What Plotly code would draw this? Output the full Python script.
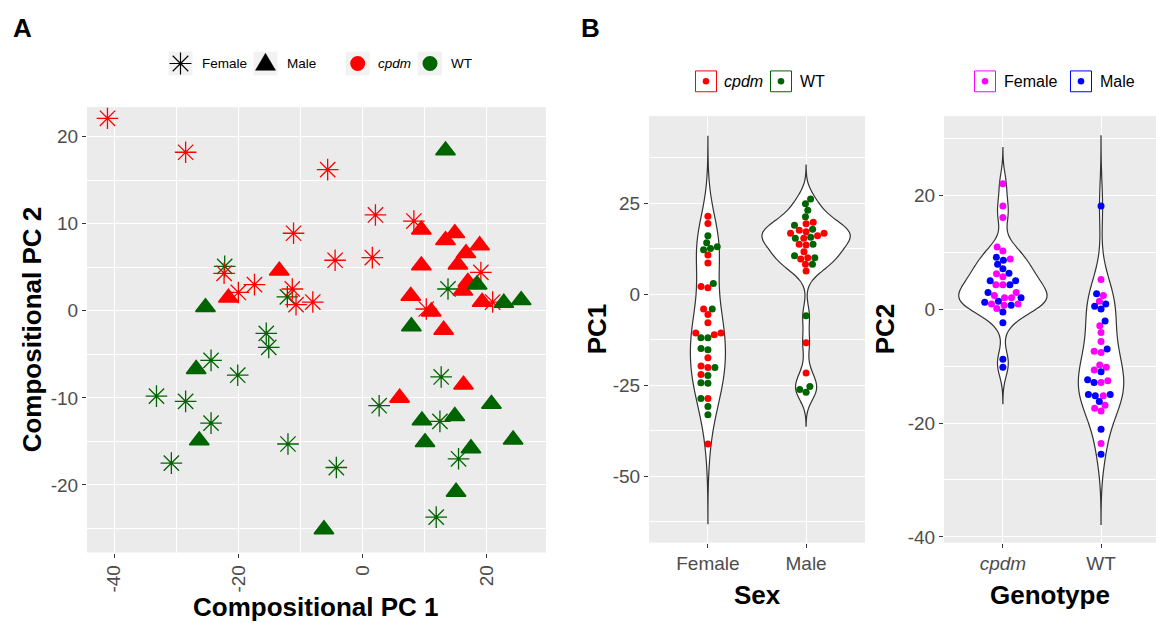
import math
import numpy as np
import plotly.graph_objects as go

W, H = 1156, 623
FONT = "Liberation Sans, Arial, Helvetica, sans-serif"
RED, GREEN, MAGENTA, BLUE = "#FF0000", "#006400", "#FF00FF", "#0000FF"
BG = "#EBEBEB"
TICKC = "#4D4D4D"

# ---------------- Panel A data (compositional PCs) ----------------
fem_cpdm_pc1 = [-41.1, -28.5, -5.6, -11.1, 2.1, 8.3, -4.4, 1.6, -22.3, -17.4, -20.0, -11.3, -10.7, -8.0, 19.1, 21.0, 10.3]
fem_cpdm_pc2 = [22.1, 18.2, 16.2, 8.9, 11.0, 10.3, 5.8, 6.1, 4.3, 3.0, 2.1, 2.5, 0.7, 1.0, 4.4, 1.0, 0.2]
fem_wt_pc1 = [-22.2, -12.1, 13.8, -15.5, -15.1, -24.4, -20.1, -33.2, -28.5, -24.4, -12.0, -30.8, -4.2, 12.7, 2.7, 12.5, 15.5, 11.9]
fem_wt_pc2 = [5.1, 1.6, 2.5, -2.6, -4.2, -5.7, -7.4, -9.8, -10.4, -12.9, -15.3, -17.5, -18.0, -7.6, -10.9, -12.7, -17.0, -23.7]
male_cpdm_pc1 = [-13.4, -21.6, 9.5, 14.9, 13.4, 18.9, 16.7, 15.4, 9.5, 17.0, 16.2, 7.8, 19.3, 11.1, 13.1, 16.3, 6.0]
male_cpdm_pc2 = [4.6, 1.5, 9.3, 8.9, 8.1, 7.5, 6.6, 5.3, 5.2, 3.3, 2.3, 1.7, 1.0, -0.1, -2.2, -8.5, -10.0]
male_wt_pc1 = [13.4, 18.5, 22.8, 25.6, -25.3, 7.9, -26.8, -26.3, -6.2, 20.8, 9.6, 14.9, 10.1, 24.3, 17.5, 15.1]
male_wt_pc2 = [18.4, 3.0, 0.9, 1.2, 0.4, -1.8, -6.7, -14.9, -25.1, -10.7, -12.6, -12.1, -15.1, -14.8, -15.8, -20.8]
a_x_ticks = [-40, -20, 0, 20]
a_y_ticks = [-20, -10, 0, 10, 20]

# ---------------- Panel B data ----------------
sex_categories = ["Female", "Male"]
genotype_categories = ["cpdm", "WT"]
pc1_female_cpdm = [21.4, 19.4, 10.7, 8.5, 1.7, 2.1, -4.1, -5.6, -7.9, -10.7, -11.2, -10.7, -17.5, -20.2, -19.8, -22.1, -28.7, -41.2]
pc1_female_wt = [16.0, 14.1, 13.0, 12.5, 12.2, 2.9, -4.1, -12.0, -12.0, -15.3, -15.0, -20.2, -22.4, -24.4, -24.5, -28.7, -30.9, -33.2]
pc1_male_cpdm = [19.7, 19.3, 17.5, 16.7, 16.0, 16.7, 17.1, 15.3, 13.5, 13.7, 11.6, 10.0, 9.6, 8.2, 6.3, -13.4, -21.7]
pc1_male_wt = [26.1, 24.8, 23.0, 21.2, 18.9, 17.8, 15.3, 15.6, 13.7, 10.0, 10.5, 8.2, -6.0, -25.4, -27.0, -26.2]
pc2_cpdm_female = [22.0, 18.1, 16.1, 10.9, 10.2, 8.8, 6.2, 5.7, 4.3, 4.3, 2.9, 2.4, 2.0, 2.0, 0.9, 0.9, 0.7, 0.1]
pc2_cpdm_male = [9.1, 8.6, 7.9, 7.1, 6.3, 5.0, 4.3, 5.0, 2.9, 2.0, 1.2, 1.4, 0.7, -0.5, -2.4, -8.8, -10.2]
pc2_wt_female = [5.2, 2.4, 1.4, -2.9, -4.1, -5.7, -7.6, -7.4, -10.2, -9.8, -10.7, -12.6, -12.9, -15.2, -16.9, -17.4, -17.9, -23.6]
pc2_wt_male = [18.1, 2.7, 0.9, 0.5, 0.0, -2.1, -7.0, -11.0, -12.9, -12.4, -15.2, -15.0, -15.0, -16.2, -21.1, -25.5]
pc1_ticks = [-50, -25, 0, 25]
pc2_ticks = [-40, -20, 0, 20]

# ---------------- layout geometry (pixels) ----------------
A_X, A_Y = (87, 546), (108, 557)
B1_X, B2_X, B_Y = (649, 865), (944, 1156), (117, 547)
A_XR, A_YR = [-44.4, 29.6], [-27.76, 23.38]
B1_XR, B1_YR = [-0.6, 1.6], [-68.3, 48.9]
B2_XR, B2_YR = [-0.6, 1.56], [-41.0, 33.9]


def xdom(p):
    return [p[0] / W, p[1] / W]


def ydom(p):
    return [1 - p[1] / H, 1 - p[0] / H]


def nrd0(v):
    v = np.asarray(v, float)
    sd = v.std(ddof=1)
    q75, q25 = np.percentile(v, [75, 25])
    lo = min(sd, (q75 - q25) / 1.34)
    if lo <= 0:
        lo = sd
    return 0.9 * lo * len(v) ** -0.2


def swarm(vals, ypx, d):
    vals = np.asarray(vals, float)
    order = np.argsort(vals, kind="stable")
    placed = []
    offs = np.zeros(len(vals))
    for i in order:
        y = vals[i] * ypx
        near = [(px, py) for px, py in placed if abs(py - y) < d]
        cands = [0.0]
        for px, py in near:
            dx = math.sqrt(max(d * d - (py - y) ** 2, 0.0))
            cands += [px + dx, px - dx]
        cands.sort(key=lambda c: (abs(c), c))
        for c in cands:
            if all((c - px) ** 2 + (y - py) ** 2 >= d * d - 1e-6 for px, py in near):
                offs[i] = c
                placed.append((c, y))
                break
    return offs


fig = go.Figure()

# ---------------- Panel A traces ----------------
star = dict(symbol="asterisk-open", size=18)
tri = dict(symbol="triangle-up", size=17)
fig.add_trace(go.Scatter(x=fem_wt_pc1, y=fem_wt_pc2, mode="markers", xaxis="x", yaxis="y",
                         marker=dict(**star, color=GREEN, line=dict(color=GREEN, width=1.3)), showlegend=False))
fig.add_trace(go.Scatter(x=fem_cpdm_pc1, y=fem_cpdm_pc2, mode="markers", xaxis="x", yaxis="y",
                         marker=dict(**star, color=RED, line=dict(color=RED, width=1.3)), showlegend=False))
fig.add_trace(go.Scatter(x=male_cpdm_pc1, y=male_cpdm_pc2, mode="markers", xaxis="x", yaxis="y",
                         marker=dict(**tri, color=RED, line=dict(color=RED, width=1.6)), showlegend=False))
fig.add_trace(go.Scatter(x=male_wt_pc1, y=male_wt_pc2, mode="markers", xaxis="x", yaxis="y",
                         marker=dict(**tri, color=GREEN, line=dict(color=GREEN, width=1.6)), showlegend=False))

# ---------------- Panel B traces ----------------
DOT = 7.0


def add_violin_group(pos, groups, ax, ay, xr, yr, xpix, ypix, sg):
    vals = []
    cols = []
    for v, c in groups:
        vals += list(v)
        cols += [c] * len(v)
    bw = nrd0(vals)
    fig.add_trace(go.Violin(y=vals, x0=pos, bandwidth=bw, spanmode="manual",
                            span=[min(vals) - 3 * bw, max(vals) + 3 * bw], fillcolor="white",
                            line=dict(color="#333333", width=1.2), points=False, scalegroup=sg,
                            scalemode="width", orientation="v", xaxis=ax, yaxis=ay,
                            showlegend=False, hoverinfo="skip"))
    ypx = (ypix[1] - ypix[0]) / (yr[1] - yr[0])
    xpx = (xpix[1] - xpix[0]) / (xr[1] - xr[0])
    offs = swarm(vals, ypx, DOT)
    xs = [pos + o / xpx for o in offs]
    fig.add_trace(go.Scatter(x=xs, y=vals, mode="markers", xaxis=ax, yaxis=ay,
                             marker=dict(size=DOT, color=cols, line=dict(width=0)),
                             showlegend=False))


add_violin_group(0, [(pc1_female_cpdm, RED), (pc1_female_wt, GREEN)], "x2", "y2", B1_XR, B1_YR, B1_X, B_Y, "b1")
add_violin_group(1, [(pc1_male_cpdm, RED), (pc1_male_wt, GREEN)], "x2", "y2", B1_XR, B1_YR, B1_X, B_Y, "b1")
add_violin_group(0, [(pc2_cpdm_female, MAGENTA), (pc2_cpdm_male, BLUE)], "x3", "y3", B2_XR, B2_YR, B2_X, B_Y, "b2")
add_violin_group(1, [(pc2_wt_female, MAGENTA), (pc2_wt_male, BLUE)], "x3", "y3", B2_XR, B2_YR, B2_X, B_Y, "b2")

# ---------------- axes ----------------
tickfont = dict(family=FONT, size=19, color=TICKC)
common = dict(showgrid=True, gridcolor="white", gridwidth=1.4, zeroline=False, showline=False,
              ticks="outside", ticklen=4, tickwidth=1, tickcolor="#333333", tickfont=tickfont)


def minor(rng, step, majors):
    vals = [float(v) for v in np.arange(math.floor(rng[0] / step) * step, rng[1] + step, step)
            if all(abs(v - m) > 1e-9 for m in majors)]
    return dict(tickmode="array", tickvals=vals, showgrid=True, gridcolor="white", gridwidth=0.7, ticks="")


def major(vals):
    return dict(tickmode="array", tickvals=vals, ticktext=[str(v) for v in vals])


layout_axes = dict(
    xaxis=dict(domain=xdom(A_X), range=A_XR, anchor="y", tickangle=-90, **major(a_x_ticks),
               minor=minor(A_XR, 10, a_x_ticks), **common),
    yaxis=dict(domain=ydom(A_Y), range=A_YR, anchor="x", **major(a_y_ticks),
               minor=minor(A_YR, 5, a_y_ticks), **common),
    xaxis2=dict(domain=xdom(B1_X), range=B1_XR, anchor="y2", tickvals=[0, 1], ticktext=sex_categories,
                **common),
    yaxis2=dict(domain=ydom(B_Y), range=B1_YR, anchor="x2", **major(pc1_ticks),
                minor=minor(B1_YR, 12.5, pc1_ticks), **common),
    xaxis3=dict(domain=xdom(B2_X), range=B2_XR, anchor="y3", tickvals=[0, 1],
                ticktext=["<i>" + genotype_categories[0] + "</i>", genotype_categories[1]], **common),
    yaxis3=dict(domain=ydom(B_Y), range=B2_YR, anchor="x3", **major(pc2_ticks),
                minor=minor(B2_YR, 10, pc2_ticks), **common),
)

# ---------------- text annotations ----------------
ann = []


def text(px, py, s, size, angle=0, xanchor="center", color="black"):
    ann.append(dict(x=px / W, y=1 - py / H, xref="paper", yref="paper", text=s, showarrow=False,
                    xanchor=xanchor, yanchor="middle", textangle=angle,
                    font=dict(family=FONT, size=size, color=color)))


text(22, 28, "<b>A</b>", 26)
text(590, 28, "<b>B</b>", 26)
text(316, 612, "<b>Compositional PC 1</b>", 26)
text(32, 332, "<b>Compositional PC 2</b>", 26, angle=-90)
text(757, 600, "<b>Sex</b>", 26)
text(1050, 600, "<b>Genotype</b>", 26)
text(597, 332, "<b>PC1</b>", 26, angle=-90)
text(885, 332, "<b>PC2</b>", 26, angle=-90)

# ---------------- legends (drawn keys) ----------------
shapes = []


def rect(cx, cy, s, fill, line_color=None):
    shapes.append(dict(type="rect", xref="paper", yref="paper",
                       x0=(cx - s / 2) / W, x1=(cx + s / 2) / W,
                       y0=1 - (cy + s / 2) / H, y1=1 - (cy - s / 2) / H,
                       fillcolor=fill, line=dict(width=1 if line_color else 0, color=line_color or fill)))


def circle(cx, cy, r, fill):
    shapes.append(dict(type="circle", xref="paper", yref="paper",
                       x0=(cx - r) / W, x1=(cx + r) / W, y0=1 - (cy + r) / H, y1=1 - (cy - r) / H,
                       fillcolor=fill, line=dict(width=0)))


def P(px, py):
    return "%.5f,%.5f" % (px / W, 1 - py / H)


def asterisk(cx, cy, r, color):
    d = r * 0.707
    path = ("M" + P(cx - r, cy) + "L" + P(cx + r, cy) + "M" + P(cx, cy - r) + "L" + P(cx, cy + r) +
            "M" + P(cx - d, cy - d) + "L" + P(cx + d, cy + d) + "M" + P(cx - d, cy + d) + "L" + P(cx + d, cy - d))
    shapes.append(dict(type="path", xref="paper", yref="paper", path=path, line=dict(color=color, width=1.2)))


def triangle(cx, cy, w, h, color):
    path = "M" + P(cx - w / 2, cy + h * 0.4) + "L" + P(cx + w / 2, cy + h * 0.4) + "L" + P(cx, cy - h * 0.6) + "Z"
    shapes.append(dict(type="path", xref="paper", yref="paper", path=path, fillcolor=color,
                       line=dict(color=color, width=0.5)))


# Panel A legend
LA_Y, KA = 64, 24
rect(180.5, LA_Y, KA, "#F2F2F2"); asterisk(180.5, LA_Y, 11, "black"); text(200, LA_Y, "Female", 13.5, xanchor="left")
rect(265.5, LA_Y, KA, "#F2F2F2"); triangle(265.5, LA_Y, 20, 17, "black"); text(285, LA_Y, "Male", 13.5, xanchor="left")
rect(357.7, LA_Y, KA, "#F2F2F2"); circle(357.7, LA_Y, 7.5, RED); text(376, LA_Y, "<i>cpdm</i>", 13.5, xanchor="left")
rect(430, LA_Y, KA, "#F2F2F2"); circle(430, LA_Y, 7.5, GREEN); text(449, LA_Y, "WT", 13.5, xanchor="left")

# Panel B legends
LB_Y, KB = 82, 21
rect(706, LB_Y, KB, "white", RED); circle(706, LB_Y, 3.3, RED); text(722, LB_Y, "<i>cpdm</i>", 16, xanchor="left")
rect(781, LB_Y, KB, "white", GREEN); circle(781, LB_Y, 3.3, GREEN); text(798, LB_Y, "WT", 16, xanchor="left")
rect(985, LB_Y, KB, "white", MAGENTA); circle(985, LB_Y, 3.3, MAGENTA); text(1002, LB_Y, "Female", 16, xanchor="left")
rect(1081, LB_Y, KB, "white", BLUE); circle(1081, LB_Y, 3.3, BLUE); text(1098, LB_Y, "Male", 16, xanchor="left")

fig.update_layout(
    width=W, height=H, margin=dict(l=0, r=0, t=0, b=0),
    paper_bgcolor="white", plot_bgcolor=BG,
    violinmode="overlay", violingap=0.1, violingroupgap=0.0, showlegend=False,
    annotations=ann, shapes=shapes,
    font=dict(family=FONT),
    **layout_axes,
)

fig.write_html("out.html")
